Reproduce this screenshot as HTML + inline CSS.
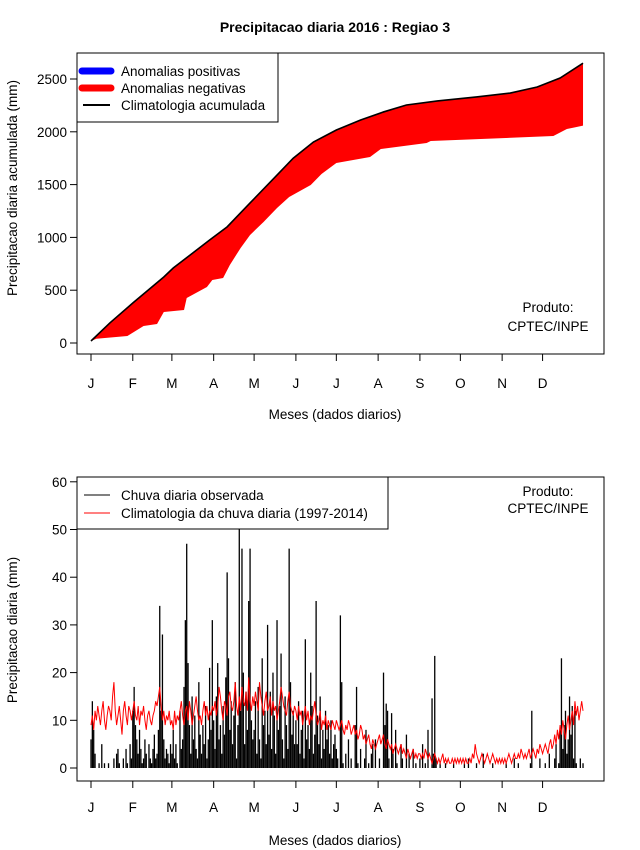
<!DOCTYPE html>
<html><head><meta charset="utf-8"><style>
body{margin:0;background:#fff;}
svg{display:block;font-family:"Liberation Sans",Arial,sans-serif;}
</style></head><body>
<svg id="c" width="640" height="850" xmlns="http://www.w3.org/2000/svg">
<rect width="640" height="850" fill="#fff"/>
</svg>
<script>
// ---------- data ----------
const monthLabels = ["J","F","M","A","M","J","J","A","S","O","N","D"];
const monthStartDays = [0,31,60,91,121,152,182,213,244,274,305,335];
const topYTicks = [0,500,1000,1500,2000,2500];
const botYTicks = [0,10,20,30,40,50,60];
// cumulative climatology (day, mm)
const climCumDays = [0,14,31,54,61,88,101,118,138,150,165,182,200,217,234,257,286,311,331,348,365];
const climCumVals = [19,190,379,625,710,975,1100,1326,1590,1750,1903,2017,2112,2188,2254,2292,2330,2367,2424,2509,2650];
// cumulative observed (day, mm)
const obsCumDays = [0,4,27,39,49,54,69,71,86,90,98,103,111,118,128,138,147,163,171,182,207,215,249,252,343,353,365];
const obsCumVals = [19,40,66,161,180,294,312,426,530,597,615,739,900,1023,1146,1278,1383,1496,1600,1705,1761,1837,1894,1913,1960,2026,2058];
// daily observed rain (mm)
const obsDaily = [].concat(
[6,14,8,3,0,0,1,0,5,0,1,0,0,1,0,0,0,2,0,3,4,1,0,0,2,0,4,1,0,5,2],
[12,17,9,6,3,8,4,1,2,6,3,0,5,2,1,4,7,2,3,8,34,12,28,6,2,4,3,1,5],
[3,8,2,5,1,0,12,4,6,17,31,47,22,9,3,15,6,11,4,2,18,7,3,9,5,13,2,6,21,8,31],
[10,4,15,22,6,9,3,13,7,19,41,23,8,14,5,11,18,2,9,52,12,46,20,5,16,8,35,46,10,6],
[8,14,3,17,6,2,23,9,12,5,30,7,16,4,20,11,3,31,8,13,24,6,2,15,9,4,46,18,7,12,5],
[10,5,14,3,8,12,2,27,6,9,4,20,13,3,7,35,11,5,15,2,8,4,12,6,9,3,10,2,5,7],
[4,2,0,32,18,1,0,3,0,6,0,2,0,0,9,17,1,0,4,0,0,2,8,0,1,0,3,5,0,6,0],
[0,2,0,0,20,9,13.5,12,2,0,11.5,4,0,8,1,0,0,5,2,0,0,7,0,3,0,0,4,0,1,0,0],
[2,0,5,0,1,0,8,0,0,14.6,3,23.5,2,0,0,1,0,0,0,1,0,0,0,0,0,1,0,0,0,0],
[0,0,0,1,0,0,2,0,0,0,0,0,1,0,0,0,0,3,0,0,0,0,0,0,1,0,0,0,0,0,0],
[0,0,0,1,0,0,0,0,0,2,0,0,1,0,0,0,0,0,0,0,0,1,12,0,0,0,0,0,2,0],
[0,0,1,0,0,3,0,0,0,2,5,0,1,8,23,4,9,12,3,6,15,7,13,2,12,1,0,0,2,0,1]);
// daily climatology (mm)
const climDaily = [].concat(
[9,11,8,12,10,13,11,9,12,14,10,8,11,13,12,10,15,18,12,9,11,13,10,7,12,14,11,9,13,12,10],
[12,14,11,10,13,9,12,11,13,10,8,11,12,10,9,11,12,14,13,15,17,13,10,12,9,11,10,12,9],
[10,8,12,9,11,10,12,14,11,9,12,13,10,14,12,9,11,13,15,12,10,11,9,12,14,11,13,10,12,11,13],
[12,14,11,13,17,15,12,10,14,13,11,15,16,13,12,14,18,13,11,15,12,17,14,13,16,12,19,14,12,15],
[13,16,14,12,18,15,13,11,14,16,12,13,15,11,14,12,13,10,12,14,17,15,13,12,11,14,16,13,12,11,13],
[12,10,13,11,12,9,11,13,10,12,9,11,10,12,14,11,9,10,12,8,10,9,11,8,10,9,8,10,9,8],
[10,9,8,9,10,8,7,9,8,10,9,7,8,9,7,8,6,7,9,8,6,7,5,6,7,5,4,6,5,4,5],
[6,7,5,6,7,5,4,6,5,4,5,3,4,5,4,3,4,5,3,4,3,2,4,3,2,3,4,2,3,2,3],
[3,2,3,2,4,3,2,3,2,1,2,3,2,1,2,1,2,3,1,2,1,2,1,1,2,1,2,1,2,1],
[2,1,2,1,2,1,1,2,1,3,2,5,3,2,1,2,3,2,1,2,3,2,1,2,3,2,1,2,1,2,1],
[2,1,2,1,2,3,2,1,2,3,2,2,3,2,4,3,2,3,2,3,4,2,3,4,3,2,4,3,5,4],
[3,4,5,4,3,5,6,4,5,7,5,8,6,9,7,10,8,6,9,11,8,10,12,9,14,11,13,10,12,14,12]);

// ---------- helpers ----------
const NS="http://www.w3.org/2000/svg";
const svg=document.getElementById('c');
function mk(tag,attrs,parent){const e=document.createElementNS(NS,tag);for(const k in attrs)e.setAttribute(k,attrs[k]);(parent||svg).appendChild(e);return e;}
function txt(s,x,y,attrs,parent){const e=mk('text',Object.assign({x:x,y:y,'font-size':13.5},attrs||{}),parent);e.textContent=s;return e;}
const xDay=d=>91+d*1.348;
const yTop=v=>343-v*0.1056;
const yBot=v=>768-v*4.77;

let t=txt("Precipitacao diaria 2016 : Regiao 3",335,32,{'text-anchor':'middle','font-weight':'bold','font-size':14});


function axes(g,box,yTicks,yf,labelY,xlabY,ytitle,ytitleY,prefix){
  const r=mk('rect',{x:box[0],y:box[1],width:box[2]-box[0],height:box[3]-box[1],fill:'none',stroke:'#000','stroke-width':1},g);
  
  yTicks.forEach(v=>{const y=yf(v);
    mk('line',{x1:box[0]-7,x2:box[0],y1:y,y2:y,stroke:'#000'},g);
    const l=txt(String(v),box[0]-10,y+5,{'text-anchor':'end'},g);
    
  });
  monthStartDays.forEach((d,i)=>{const x=xDay(d);
    mk('line',{x1:x,x2:x,y1:box[3],y2:box[3]+7,stroke:'#000'},g);
    const l=txt(monthLabels[i],x,labelY,{'text-anchor':'middle'},g);
    
  });
  const xl=txt("Meses (dados diarios)",335,xlabY,{'text-anchor':'middle'},g);
  
  const yl=txt(ytitle,0,0,{'text-anchor':'middle',transform:'translate(17,'+ytitleY+') rotate(-90)'},g);
  
}

// ---------- top panel ----------
const gT=mk('g',{});

let pts=climCumDays.map((d,i)=>xDay(d)+','+yTop(climCumVals[i]));
let back=obsCumDays.slice().reverse().map((d,i)=>{const j=obsCumDays.length-1-i;return xDay(d)+','+yTop(obsCumVals[j]);});
const area=mk('polygon',{points:pts.concat(back).join(' '),fill:'#ff0000',stroke:'none'},gT);

const cl=mk('polyline',{points:pts.join(' '),fill:'none',stroke:'#000','stroke-width':1.6},gT);

axes(gT,[77,53,604,354],topYTicks,yTop,388,419,"Precipitacao diaria acumulada (mm)",188,'top');
const lgT=mk('g',{},gT);

mk('rect',{x:77,y:53,width:201,height:69,fill:'#fff',stroke:'#000'},lgT);
mk('line',{x1:82,x2:111,y1:71,y2:71,stroke:'#0000ff','stroke-width':7,'stroke-linecap':'round'},lgT);
mk('line',{x1:82,x2:111,y1:88,y2:88,stroke:'#ff0000','stroke-width':7,'stroke-linecap':'round'},lgT);
mk('line',{x1:83,x2:110,y1:105,y2:105,stroke:'#000','stroke-width':2},lgT);
[["Anomalias positivas",76],["Anomalias negativas",93],["Climatologia acumulada",110]].forEach(a=>{
  const e=txt(a[0],121,a[1],{},lgT);});
let p1=txt("Produto:",548,312,{'text-anchor':'middle'},gT);
let p2=txt("CPTEC/INPE",548,331,{'text-anchor':'middle'},gT);

// ---------- bottom panel ----------
const gB=mk('g',{});

const cp=mk('clipPath',{id:'cb'},gB);mk('rect',{x:77,y:477,width:527,height:304},cp);
const bars=mk('g',{'clip-path':'url(#cb)'},gB);

obsDaily.forEach((v,d)=>{
  const b=mk('line',{x1:xDay(d),x2:xDay(d),y1:yBot(0),y2:yBot(v),stroke:'#000','stroke-width':1.3},bars);
  
});
const rl=mk('polyline',{points:climDaily.map((v,d)=>xDay(d)+','+yBot(v)).join(' '),fill:'none',stroke:'#ff0000','stroke-width':1,'clip-path':'url(#cb)'},gB);

axes(gB,[77,477,604,781],botYTicks,yBot,812,845,"Precipitacao diaria (mm)",630,'bottom');
const lgB=mk('g',{},gB);

mk('rect',{x:77,y:477,width:311,height:52,fill:'#fff',stroke:'#000'},lgB);
mk('line',{x1:84,x2:110,y1:495,y2:495,stroke:'#000','stroke-width':1},lgB);
mk('line',{x1:84,x2:110,y1:513,y2:513,stroke:'#ff0000','stroke-width':1},lgB);
[["Chuva diaria observada",500],["Climatologia da chuva diaria (1997-2014)",518]].forEach(a=>{
  const e=txt(a[0],121,a[1],{},lgB);});
let p3=txt("Produto:",548,496,{'text-anchor':'middle'},gB);
let p4=txt("CPTEC/INPE",548,513,{'text-anchor':'middle'},gB);
</script>
</body></html>
